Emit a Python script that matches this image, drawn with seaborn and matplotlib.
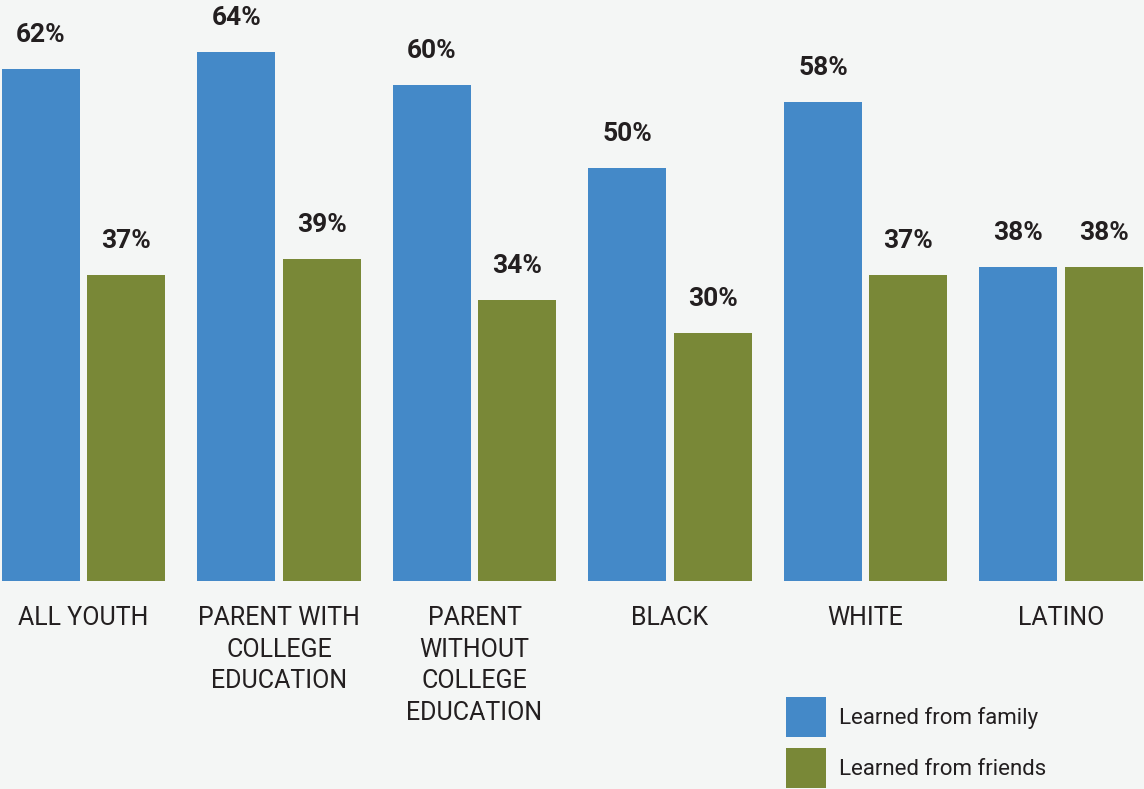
import matplotlib
matplotlib.use("Agg")
import matplotlib.pyplot as plt
import seaborn as sns
import pandas as pd

categories = ["ALL YOUTH", "PARENT WITH\nCOLLEGE\nEDUCATION", "PARENT\nWITHOUT\nCOLLEGE\nEDUCATION",
              "BLACK", "WHITE", "LATINO"]
family = [62, 64, 60, 50, 58, 38]
friends = [37, 39, 34, 30, 37, 38]
series = ["Learned from family", "Learned from friends"]
colors = ["#4489c8", "#798837"]
bg = "#f4f6f5"

df = pd.DataFrame({
    "category": categories * 2,
    "value": family + friends,
    "series": [series[0]] * len(categories) + [series[1]] * len(categories),
})

sns.set_theme(style="white")
plt.rcParams["font.family"] = ["Roboto", "DejaVu Sans"]

fig = plt.figure(figsize=(11.44, 7.89), dpi=100, facecolor=bg)
ax = fig.add_axes([0, (789 - 581) / 789, 1, 581 / 789])
ax.set_facecolor(bg)

sns.barplot(data=df, x="category", y="value", hue="series", palette=colors,
            width=0.87, gap=0.083, saturation=1, linewidth=0, ax=ax, legend=True)

for cont in ax.containers:
    ax.bar_label(cont, labels=[f"{v:.0f}%" for v in cont.datavalues],
                 padding=16, fontsize=19, fontweight="bold", color="#231f20")

ax.set_xlim(-83.5 / 195.5, (1144 - 83.5) / 195.5)
ax.set_ylim(0, 581 / 8.26)
ax.set_xlabel("")
ax.set_ylabel("")
ax.set_yticks([])
ax.tick_params(axis="x", length=0, pad=18, labelsize=18, colors="#231f20")
for lab in ax.get_xticklabels():
    lab.set_linespacing(1.4)
for s in ax.spines.values():
    s.set_visible(False)

handles, labels = ax.get_legend_handles_labels()
ax.legend(handles, labels, loc="upper left",
          bbox_to_anchor=(786 / 1144, 1 - 697 / 789), bbox_transform=fig.transFigure,
          frameon=False, fontsize=16, borderpad=0, borderaxespad=0,
          handlelength=1.8, handleheight=2.4, handletextpad=0.6, labelspacing=0.5,
          labelcolor="#231f20")

fig.savefig("out.png", dpi=100, facecolor=bg)
